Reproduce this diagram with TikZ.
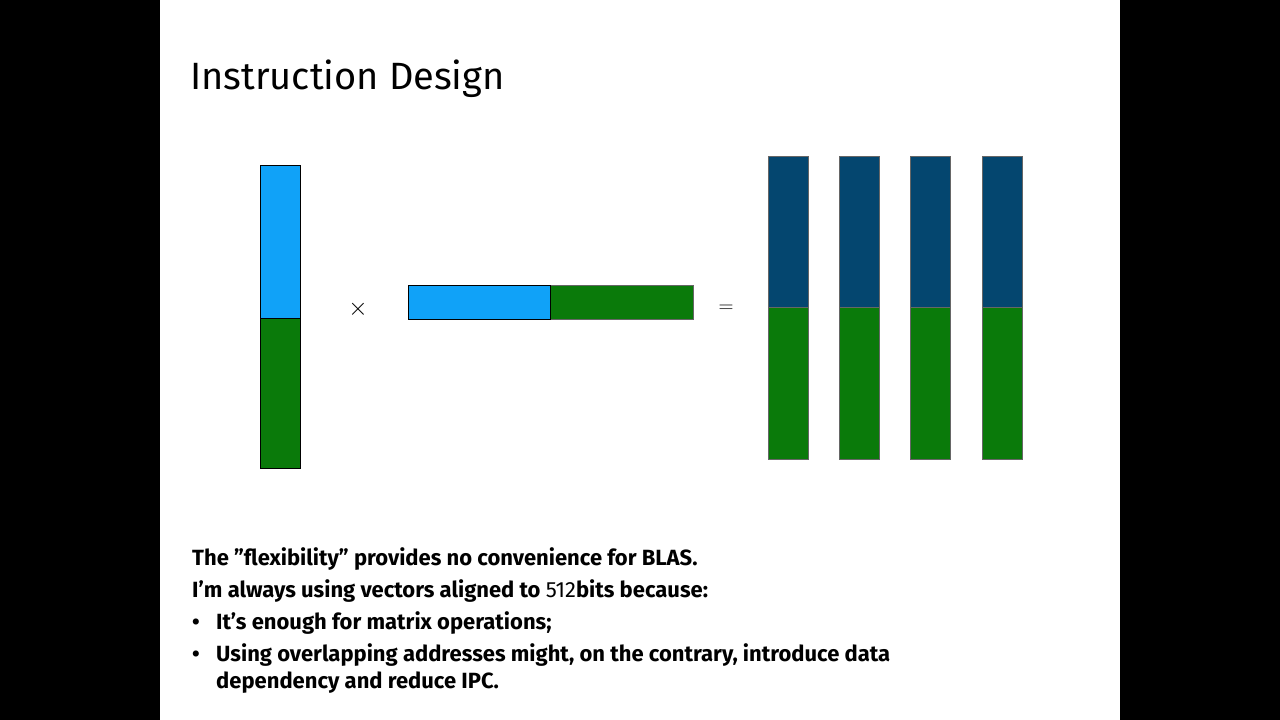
\documentclass[tikz,border=0pt]{standalone}
\usepackage{fontspec}
\setmainfont{Fira Sans}
\definecolor{lblue}{HTML}{10A2F8}
\definecolor{vgreen}{HTML}{0A7A0A}
\definecolor{dblue}{HTML}{04466F}
\tikzset{
  blk/.style={draw=black, line width=0.8pt},
  col/.style={draw=gray!80!black, line width=0.8pt},
  txt/.style={anchor=base west, font=\fontseries{sb}\fontsize{22}{26}\selectfont, inner sep=0pt}
}
\newcommand{\sq}{{\char`\"}}
\begin{document}
\begin{tikzpicture}[x=1pt,y=-1pt]
\fill[black] (0,0) rectangle (1280,720);
\fill[white] (160,0) rectangle (1120,720);
\node[anchor=base west, inner sep=0pt, font=\fontseries{m}\fontsize{38}{44}\selectfont] (title) at (190,89) {Instruction Design};
% left vector
\filldraw[fill=lblue, blk] (260,165) rectangle (300,318);
\filldraw[fill=vgreen, blk] (260,318) rectangle (300,468);
\node (times) at (358,309) {\fontsize{26}{28}\selectfont$\times$};
% row vector
\filldraw[fill=vgreen, col] (550,285) rectangle (693,319);
\filldraw[fill=lblue, blk] (408,285) rectangle (550,319);
\node (eq) at (726,309) {\fontsize{22}{24}\selectfont$=$};
% result columns
\foreach \x in {768,839,910,982}{
  \filldraw[fill=dblue, col] (\x,156) rectangle ++(40,151);
  \filldraw[fill=vgreen, col] (\x,307) rectangle ++(40,152);
}
\node[txt] (l1) at (192,565) {The \sq flexibility\sq\ provides no convenience for BLAS.};
\node[txt] (l2) at (192,597) {I'm always using vectors aligned to {\mdseries 512}bits because:};
\node[txt] (b1) at (192,629) {•};
\node[txt] (l3) at (216,629) {It's enough for matrix operations;};
\node[txt] (b2) at (192,661) {•};
\node[txt] (l4) at (216,661) {Using overlapping addresses might, on the contrary, introduce data};
\node[txt] (l5) at (216,688) {dependency and reduce IPC.};
\end{tikzpicture}
\end{document}
